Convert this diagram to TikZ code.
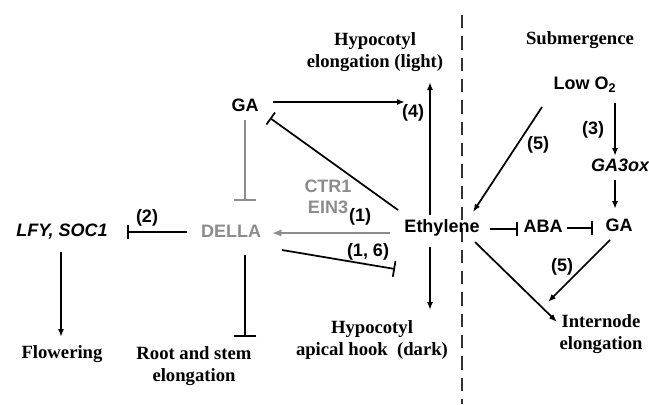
\documentclass[tikz,border=0pt]{standalone}
\usepackage{fontspec}
\setmainfont{Liberation Serif}
\setsansfont{Liberation Sans}
\usetikzlibrary{arrows.meta,calc}
\definecolor{dgray}{RGB}{140,140,140}
\begin{document}
\begin{tikzpicture}[x=0.75pt,y=-0.75pt,
  sf/.style={font=\sffamily\bfseries\fontsize{13.5}{16}\selectfont, inner sep=0pt},
  srf/.style={font=\rmfamily\bfseries\fontsize{14}{16.5}\selectfont, inner sep=0pt, align=center},
  conn/.style={line width=1.3pt},
  ar/.style={conn, -{Latex[length=6pt,width=4.5pt]}},
  inh/.style={conn, -{Bar[width=#1,line width=1.3pt]}},
  inh/.default=11pt,
  gline/.style={line width=1.8pt, draw=dgray}]
\useasboundingbox (0,0) rectangle (649,404);
% dashed divider
\coordinate (divtop) at (462,15);
\coordinate (divbot) at (462,404);
\draw[line width=1.4pt, dash pattern=on 10pt off 6pt, draw=black!80] (divtop) -- (divbot);
% nodes
\node[sf] (eth) at (442,228) {Ethylene};
\node[sf, text=dgray] (della) at (231,231) {DELLA};
\node[sf] (gal) at (245,105) {GA};
\node[sf] (lfy) at (62,232) {\itshape LFY, SOC1};
\node[srf] (flow) at (62,354) {Flowering};
\node[srf] (root) at (194,366) {Root and stem\\elongation};
\node[srf] (hypl) at (375,52) {Hypocotyl\\elongation (light)};
\node[srf] (hypd) at (372,340) {Hypocotyl\\apical hook~ (dark)};
\node[srf] (sub) at (580,40) {Submergence};
\node[sf] (low) at (585,85) {Low O\textsubscript{2}};
\node[sf] (ga3) at (620,165) {\itshape GA3ox};
\node[sf] (gar) at (619,225) {GA};
\node[sf] (aba) at (543,226) {ABA};
\node[srf] (inter) at (601,334) {Internode\\elongation};
\node[sf, text=dgray, align=center] (ctr) at (328,197) {CTR1\\EIN3};
\node[sf] (l1) at (360,217) {(1)};
\node[sf] (l16) at (368,252) {(1, 6)};
\node[sf] (l2) at (147,218) {(2)};
\node[sf] (l3) at (593,130) {(3)};
\node[sf] (l4) at (413,113) {(4)};
\node[sf] (l5a) at (538,145) {(5)};
\node[sf] (l5b) at (562,267) {(5)};
% connectors
\draw[ar] ($(gal)+(28,-3)$) -- ($(gal)+(160,-3)$);
\draw[ar] ($(eth)+(-12,-13)$) -- ($(hypl)+(55,30)$);
\draw[ar] ($(eth)+(-12,19)$) -- ($(hypd)+(58,-30)$);
\draw[inh] ($(eth)+(-44,-18)$) -- ($(gal)+(25,13)$);
\draw[gline, -{Bar[width=16pt,line width=1.8pt]}] ($(gal)+(0,15)$) -- ($(della)+(14,-30)$);
\draw[gline, -{Latex[length=7pt,width=5.5pt]}, dgray] ($(eth)+(-52,5)$) -- ($(della)+(41,2)$);
\draw[inh=12pt] ($(della)+(51,19)$) -- ($(eth)+(-47,41)$);
\draw[inh=10pt] ($(della)+(-44,1)$) -- ($(lfy)+(65,0)$);
\draw[ar] ($(lfy)+(-1,20)$) -- ($(flow)+(-1,-17)$);
\draw[inh=17pt] ($(della)+(14,24)$) -- ($(root)+(51,-29)$);
\draw[ar] ($(low)+(30,18)$) -- ($(ga3)+(-5,-9)$);
\draw[ar] ($(ga3)+(-5,15)$) -- ($(gar)+(-4,-16)$);
\draw[inh] ($(eth)+(48,1)$) -- ($(aba)+(-25,3)$);
\draw[inh] ($(aba)+(24,2)$) -- ($(gar)+(-26,3)$);
\draw[ar] ($(low)+(-43,22)$) -- ($(eth)+(31,-16)$);
\draw[ar] ($(gar)+(-9,15)$) -- ($(inter)+(-53,-32)$);
\draw[ar] ($(eth)+(33,14)$) -- ($(inter)+(-44,-12)$);
\end{tikzpicture}
\end{document}
